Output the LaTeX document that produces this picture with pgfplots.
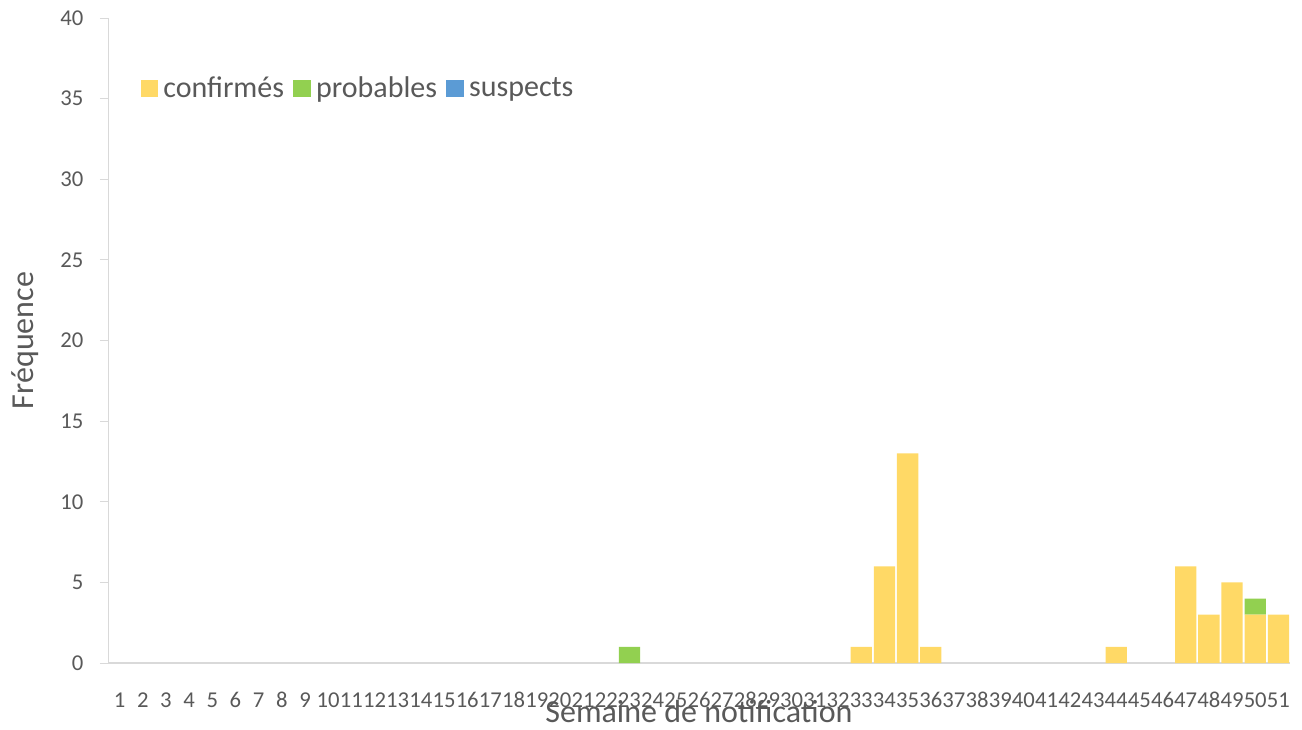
\documentclass[border=0pt]{standalone}
\usepackage{fontspec}
\setmainfont{Carlito}
\usepackage{pgfplots}
\usepackage{pgfplotstable}
\pgfplotsset{compat=1.18}
\definecolor{conf}{HTML}{FFD966}
\definecolor{prob}{HTML}{92D050}
\definecolor{susp}{HTML}{5B9BD5}
\definecolor{axgray}{HTML}{D9D9D9}
\definecolor{txt}{HTML}{595959}

% semaine, confirmes, probables, suspects
\pgfplotstableread{
w c p s
1 0 0 0
2 0 0 0
3 0 0 0
4 0 0 0
5 0 0 0
6 0 0 0
7 0 0 0
8 0 0 0
9 0 0 0
10 0 0 0
11 0 0 0
12 0 0 0
13 0 0 0
14 0 0 0
15 0 0 0
16 0 0 0
17 0 0 0
18 0 0 0
19 0 0 0
20 0 0 0
21 0 0 0
22 0 0 0
23 0 1 0
24 0 0 0
25 0 0 0
26 0 0 0
27 0 0 0
28 0 0 0
29 0 0 0
30 0 0 0
31 0 0 0
32 0 0 0
33 1 0 0
34 6 0 0
35 13 0 0
36 1 0 0
37 0 0 0
38 0 0 0
39 0 0 0
40 0 0 0
41 0 0 0
42 0 0 0
43 0 0 0
44 1 0 0
45 0 0 0
46 0 0 0
47 6 0 0
48 3 0 0
49 5 0 0
50 3 1 0
51 3 0 0
}\cases

\begin{document}
\begin{tikzpicture}
\useasboundingbox (0,0) rectangle (976.5pt,546.75pt);
\begin{axis}[
  at={(81pt,49.5pt)}, anchor=south west,
  scale only axis, width=886.5pt, height=483.75pt,
  ybar stacked, bar width=0.92,
  xmin=0.5, xmax=51.5, ymin=0, ymax=40,
  xtick={1,...,51}, ytick={0,5,...,40},
  axis x line=bottom, axis y line=left,
  x axis line style={-, draw=axgray, line width=1.5pt},
  y axis line style={-, draw=axgray, line width=0.75pt},
  xtick style={draw=none},
  ytick style={draw=axgray, line width=0.75pt},
  tick align=outside, major tick length=6pt,
  /pgf/number format/assume math mode=true,
  x tick label style={font=\fontsize{17}{17}\selectfont, text=txt, anchor=base, yshift=-27pt},
  y tick label style={font=\fontsize{17}{17}\selectfont, text=txt, xshift=-9pt},
  xlabel={Semaine de notification},
  ylabel={Fréquence},
  label style={font=\fontsize{24}{24}\selectfont, text=txt},
  xlabel style={at={(axis description cs:0.5,-0.075)}, anchor=center},
  ylabel style={at={(axis description cs:-0.0702,0.5)}, anchor=center, rotate=0},
  legend style={at={(axis description cs:0.024,0.891)}, anchor=west,
    draw=none, fill=none, font=\fontsize{22.5}{23}\selectfont, text=txt,
    /tikz/every odd column/.append style={column sep=2pt},
    /tikz/every even column/.append style={column sep=5pt}},
  legend columns=3,
  legend image code/.code={\fill[#1] (0pt,-6.5pt) rectangle (13pt,6.5pt);},
  every axis plot/.append style={draw=none},
]
\addplot[fill=conf] table[x=w, y=c] {\cases};
\addplot[fill=prob] table[x=w, y=p] {\cases};
\addplot[fill=susp] table[x=w, y=s] {\cases};
\legend{confirmés, probables, suspects}
\end{axis}
\end{tikzpicture}
\end{document}
